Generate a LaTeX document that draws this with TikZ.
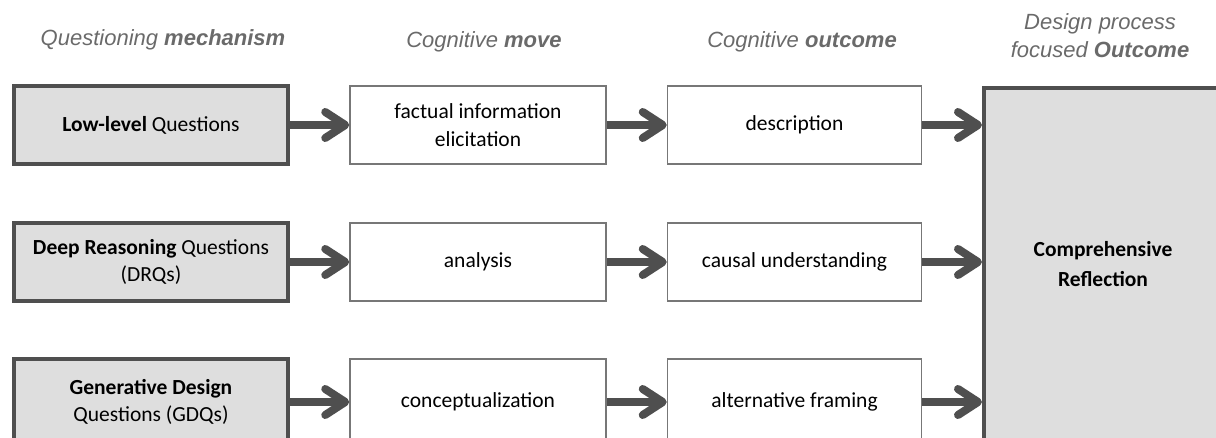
\documentclass[tikz,border=0pt]{standalone}
\usepackage{fontspec}
\setmainfont{Carlito}
\newfontfamily\headfont{Liberation Sans}
\usetikzlibrary{arrows.meta,positioning}
\definecolor{Ink}{HTML}{4F4F4F}
\definecolor{Head}{HTML}{6A6A6A}
\definecolor{Shade}{HTML}{DEDEDE}
\definecolor{Frame}{HTML}{777777}
\newcommand{\ColHead}[3]{%
  \node[font=\headfont\itshape\fontsize{22}{28}\selectfont,text=Head,align=center] (#1) at (#2) {#3};%
}

\begin{document}
\begin{tikzpicture}[x=1pt,y=1pt,
  qbox/.style={draw=Ink,line width=4pt,fill=Shade,inner sep=0pt,align=center,
    minimum width=274pt,font=\fontsize{21.5}{27.5}\selectfont},
  mbox/.style={draw=Frame,line width=1.5pt,fill=white,inner sep=0pt,align=center,
    minimum width=256pt,font=\fontsize{21.5}{27.5}\selectfont},
  flow/.style={draw=Ink,line width=8pt,-{Straight Barb[length=20pt,width=26pt,round]}}]
\useasboundingbox (0,0) rectangle (1216,437);
\clip (0,0) rectangle (1216,437);
\ColHead{hq}{163,397}{Questioning \textbf{mechanism}}
\ColHead{hm}{484,395}{Cognitive \textbf{move}}
\ColHead{ho}{802,395}{Cognitive \textbf{outcome}}
\ColHead{hd}{1100,401}{Design process\\focused \textbf{Outcome}}
\node[qbox,minimum width=238pt,minimum height=352pt,font=\bfseries\fontsize{21.5}{30}\selectfont] (refl) at (1103,173) {Comprehensive\\Reflection};
\foreach \n/\y/\h/\q/\m/\o in {%
  1/312/78/{\textbf{Low-level} Questions}/{factual information\\elicitation}/description,
  2/175/78/{\textbf{Deep Reasoning} Questions\\(DRQs)}/analysis/causal understanding,
  3/35/86/{\textbf{Generative Design}\\Questions (GDQs)}/conceptualization/alternative framing} {
  \node[qbox,minimum height=\h pt] (q\n) at (151,\y) {\q};
  \node[mbox,minimum height=\h pt] (m\n) at (478,\y) {\m};
  \node[mbox,minimum height=\h pt,minimum width=254pt] (o\n) at (794.5,\y) {\o};
  \draw[flow] (q\n) -- (m\n);
  \draw[flow] (m\n) -- (o\n);
  \draw[flow] (o\n) -- (o\n.east -| refl.west);
}
\end{tikzpicture}
\end{document}
